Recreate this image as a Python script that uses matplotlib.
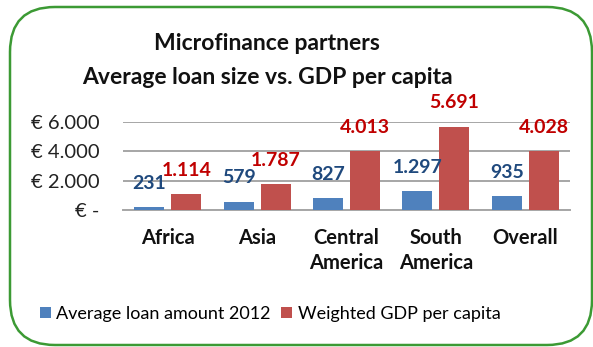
import numpy as np
import matplotlib
matplotlib.use("Agg")
import matplotlib.pyplot as plt
from matplotlib.patches import FancyBboxPatch

regions = ["Africa", "Asia", "Central\nAmerica", "South\nAmerica", "Overall"]
avg_loan = [231, 579, 827, 1297, 935]
gdp_capita = [1114, 1787, 4013, 5691, 4028]
y_ticks = [0, 2000, 4000, 6000]
y_labels = ["€ -", "€ 2.000", "€ 4.000", "€ 6.000"]

plt.rcParams["font.family"] = ["Lato", "DejaVu Sans"]

blue, red = "#4F81BD", "#C0504D"
blue_txt, red_txt = "#1F497D", "#C00000"

W, H = 593, 347
fig = plt.figure(figsize=(W / 100, H / 100), dpi=100)

# background axes in pixel units, used for the rounded green frame
bg = fig.add_axes([0, 0, 1, 1])
bg.set_xlim(0, W)
bg.set_ylim(H, 0)
bg.axis("off")
bg.add_patch(FancyBboxPatch((10, 7), 582, 338,
                            boxstyle="round,pad=0,rounding_size=45",
                            fill=False, edgecolor="#3C9A34", linewidth=1.8))

fig.text(267 / W, 1 - 43 / H, "Microfinance partners", ha="center", va="center",
         fontsize=16.5, fontweight="bold", color="#111111")
fig.text(267 / W, 1 - 77 / H, "Average loan size vs. GDP per capita", ha="center",
         va="center", fontsize=16.5, fontweight="bold", color="#111111")

ax = fig.add_axes([123 / W, 1 - 210 / H, 447 / W, 88 / H])
x = np.arange(len(regions))
bw, off = 0.335, 0.207
b1 = ax.bar(x - off, avg_loan, bw, color=blue, label="Average loan amount 2012", zorder=3)
b2 = ax.bar(x + off, gdp_capita, bw, color=red, label="Weighted GDP per capita", zorder=3)

for bars, vals, c in [(b1, avg_loan, blue_txt), (b2, gdp_capita, red_txt)]:
    for rect, v in zip(bars, vals):
        ax.annotate(f"{v:,}".replace(",", "."),
                    (rect.get_x() + rect.get_width() / 2, v),
                    xytext=(0, 17), textcoords="offset points",
                    ha="center", va="center", fontsize=14, fontweight="bold",
                    color=c, annotation_clip=False, zorder=4)

ax.set_xlim(-0.5, len(regions) - 0.5)
ax.set_ylim(0, 6000)
ax.set_yticks(y_ticks)
ax.set_yticklabels(y_labels, fontsize=14.5, color="#222222")
ax.set_xticks(x)
ax.set_xticklabels(regions, fontsize=14.5, fontweight="bold", color="#111111",
                   linespacing=1.3)
ax.tick_params(axis="both", length=0)
ax.tick_params(axis="y", pad=17)
ax.tick_params(axis="x", pad=13)
ax.grid(axis="y", color="#A6A6A6", linewidth=1.4, zorder=0)
for s in ["top", "right", "left"]:
    ax.spines[s].set_visible(False)
ax.spines["bottom"].set_color("#A6A6A6")
ax.spines["bottom"].set_linewidth(1.4)
ax.set_facecolor("none")

fig.legend(handles=[b1, b2], loc="center", bbox_to_anchor=(270 / W, 1 - 314 / H),
           ncol=2, frameon=False, fontsize=13, handlelength=0.6, handleheight=0.6,
           handletextpad=0.3, columnspacing=0.6)

fig.savefig("out.png", dpi=100)
